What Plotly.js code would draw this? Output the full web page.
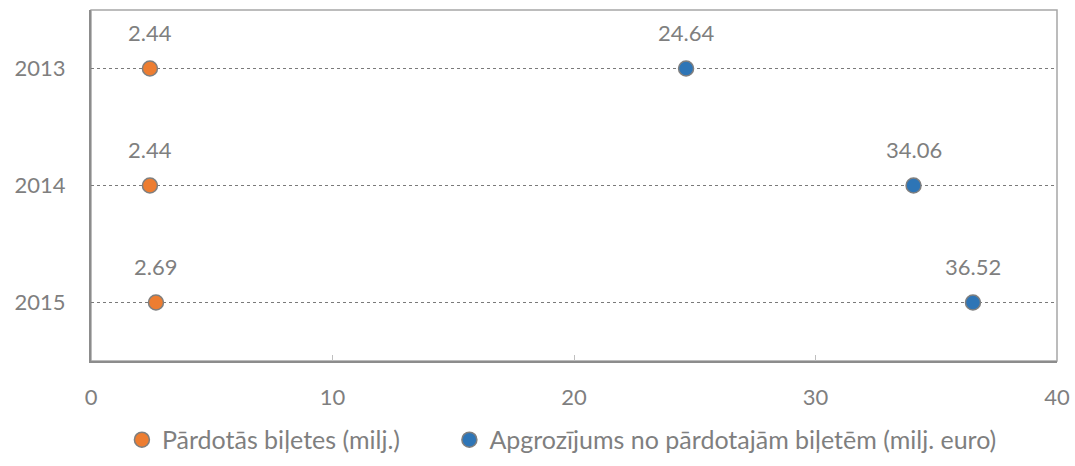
<!DOCTYPE html>
<html><head><meta charset="utf-8">
<script src="https://cdn.plot.ly/plotly-3.0.1.min.js"></script>
<style>html,body{margin:0;padding:0;background:#fff}#c{width:1075px;height:466px}</style>
</head><body><div id="c"></div>
<script>
const years = ['2013', '2014', '2015'];
const tickets = [2.44, 2.44, 2.69];
const turnover = [24.64, 34.06, 36.52];
const nameTickets = 'Pārdotās biļetes (milj.)';
const nameTurnover = 'Apgrozījums no pārdotajām biļetēm (milj. euro)';

const font = 'Lato, "Open Sans", sans-serif';
const gray = '#7f7f7f';
const fs = 22;
const mk = (c) => ({size: 15, color: c, line: {color: '#7f7f7f', width: 1.5}});

const traces = [
  {type: 'scatter', mode: 'markers', x: tickets, y: years, name: nameTickets, marker: mk('#ED7D31'), cliponaxis: false, legend: 'legend'},
  {type: 'scatter', mode: 'markers', x: turnover, y: years, name: nameTurnover, marker: mk('#2E75B6'), cliponaxis: false, legend: 'legend2'}
];
const annotations = [];
[tickets, turnover].forEach(arr => arr.forEach((v, i) => annotations.push({
  x: v, y: i, xref: 'x', yref: 'y', text: v.toFixed(2), showarrow: false,
  yshift: 36, font: {family: font, size: fs, color: gray}
})));

const legFont = {family: font, size: 25, color: gray};
const layout = {
  width: 1075, height: 466,
  margin: {l: 91, r: 18, t: 10, b: 105},
  paper_bgcolor: '#fff', plot_bgcolor: '#fff',
  font: {family: font, size: fs, color: gray},
  showlegend: true,
  legend: {orientation: 'h', x: 0.032, xanchor: 'left', yref: 'container', y: 0.056, yanchor: 'middle',
    font: legFont, itemwidth: 30, bgcolor: 'rgba(0,0,0,0)'},
  legend2: {orientation: 'h', x: 0.371, xanchor: 'left', yref: 'container', y: 0.056, yanchor: 'middle',
    font: legFont, itemwidth: 30, bgcolor: 'rgba(0,0,0,0)'},
  xaxis: {range: [0, 40], dtick: 10, tick0: 0, showgrid: false, zeroline: false,
    showline: true, linecolor: '#8c8c8c', linewidth: 2, mirror: false,
    ticks: 'inside', ticklen: 6, tickcolor: '#bfbfbf', tickwidth: 1,
    tickfont: {family: font, size: fs, color: gray}, ticklabelstandoff: 16},
  yaxis: {type: 'category', categoryorder: 'array', categoryarray: years,
    range: [2.5, -0.5], showgrid: true, gridcolor: '#7a7a7a', griddash: 'dot', gridwidth: 1.5,
    showline: true, linecolor: '#8c8c8c', linewidth: 2, zeroline: false, ticks: '',
    tickfont: {family: font, size: fs, color: gray}, ticklabelstandoff: 19},
  shapes: [{type: 'rect', xref: 'paper', yref: 'paper', x0: 0, x1: 1, y0: 0, y1: 1,
    line: {color: '#a6a6a6', width: 1.5}, layer: 'below'}],
  annotations: annotations
};
Plotly.newPlot('c', traces, layout, {displayModeBar: false, staticPlot: true});
</script></body></html>
